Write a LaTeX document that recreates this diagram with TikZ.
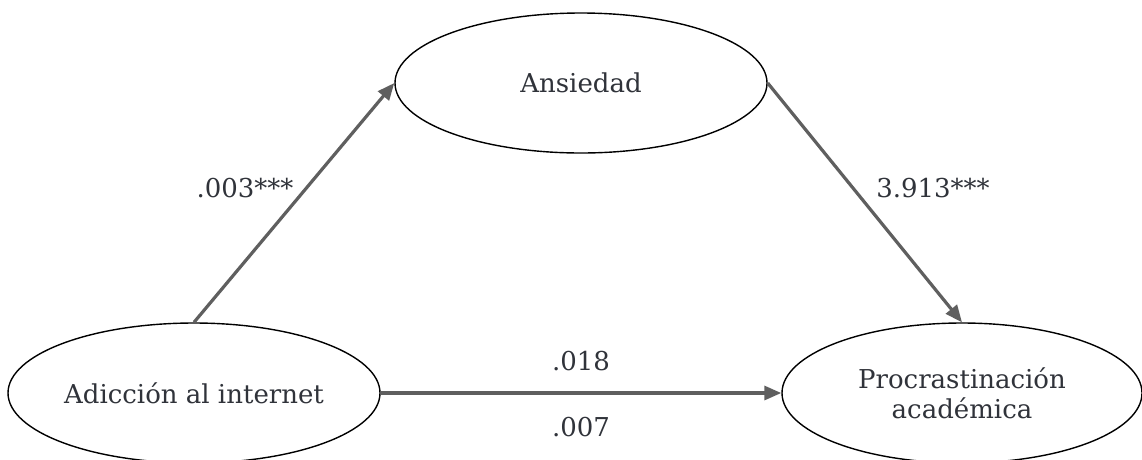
\documentclass[tikz,border=0pt]{standalone}
\usepackage{fontspec}
\setmainfont{DejaVu Serif}
\usetikzlibrary{shapes.geometric,arrows.meta}
\definecolor{txt}{HTML}{30333A}
\definecolor{arr}{HTML}{5F5F5F}
\begin{document}
\begin{tikzpicture}[x=1pt,y=-1pt,
  var/.style={ellipse,draw=black,line width=1.4pt,minimum width=372pt,minimum height=140pt,inner sep=0pt,
    text=txt,font=\fontsize{26}{30}\selectfont,align=center},
  path/.style={draw=arr,line width=3.2pt,-{Triangle[length=17pt,width=14pt]}},
  lab/.style={text=txt,font=\fontsize{26}{30}\selectfont}]
\useasboundingbox (0,0) rectangle (1142,459);
\node[var] (anx) at (581,83) {Ansiedad};
\node[var] (adi) at (194,393) {Adicción al internet};
\node[var,minimum width=360pt] (pro) at (962,393) {Procrastinación\\académica};
\draw[path] (adi.north) -- (anx.west);
\draw[path] (anx.east) -- (pro.north);
\draw[path] (adi.east) -- (pro.west);
\node[lab] (l1) at (245,188) {.003***};
\node[lab] (l2) at (933,188) {3.913***};
\node[lab] (l3) at (581,361) {.018};
\node[lab] (l4) at (581,427) {.007};
\end{tikzpicture}
\end{document}
